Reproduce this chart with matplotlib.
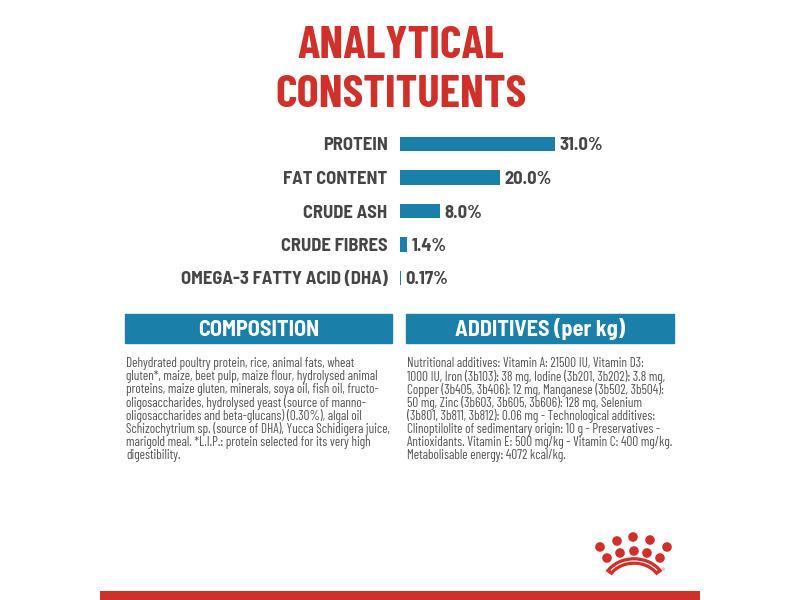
import numpy as np
import matplotlib
matplotlib.use('Agg')
import matplotlib.pyplot as plt
from matplotlib.patches import Rectangle, Circle, Arc

# data
nutrients = ['PROTEIN', 'FAT CONTENT', 'CRUDE ASH', 'CRUDE FIBRES', 'OMEGA-3 FATTY ACID (DHA)']
values = [31.0, 20.0, 8.0, 1.4, 0.17]
value_labels = ['31.0%', '20.0%', '8.0%', '1.4%', '0.17%']

title_lines = ['ANALYTICAL', 'CONSTITUENTS']
composition_title = 'COMPOSITION'
additives_title = 'ADDITIVES (per kg)'
composition_lines = [
    'Dehydrated poultry protein, rice, animal fats, wheat',
    'gluten*, maize, beet pulp, maize flour, hydrolysed animal',
    'proteins, maize gluten, minerals, soya oil, fish oil, fructo-',
    'oligosaccharides, hydrolysed yeast (source of manno-',
    'oligosaccharides and beta-glucans) (0.30%), algal oil',
    'Schizochytrium sp. (source of DHA), Yucca Schidigera juice,',
    'marigold meal. *L.I.P.: protein selected for its very high',
    'digestibility.',
]
additives_lines = [
    'Nutritional additives: Vitamin A: 21500 IU, Vitamin D3:',
    '1000 IU, Iron (3b103): 38 mg, Iodine (3b201, 3b202): 3.8 mg,',
    'Copper (3b405, 3b406): 12 mg, Manganese (3b502, 3b504):',
    '50 mg, Zinc (3b603, 3b605, 3b606): 128 mg, Selenium',
    '(3b801, 3b811, 3b812): 0.06 mg - Technological additives:',
    'Clinoptilolite of sedimentary origin: 10 g - Preservatives -',
    'Antioxidants. Vitamin E: 500 mg/kg - Vitamin C: 400 mg/kg.',
    'Metabolisable energy: 4072 kcal/kg.',
]

# colours
red = '#d0302a'
blue = '#1a80aa'
grey = '#464646'
text_grey = '#555555'

# condensed fonts, DejaVu as fallback
cond = ['Barlow Condensed', 'DejaVu Sans']
semi = ['Barlow Semi Condensed', 'Barlow Condensed', 'DejaVu Sans']
plt.rcParams['font.family'] = cond

fig = plt.figure(figsize=(8, 6), dpi=100)

# background axes in pixel coordinates
bg = fig.add_axes([0, 0, 1, 1])
bg.set_xlim(0, 800)
bg.set_ylim(600, 0)
bg.axis('off')

# title
bg.text(401, 58, title_lines[0], color=red, fontsize=33.5, fontweight='bold',
        ha='center', va='baseline')
bg.text(401, 107, title_lines[1], color=red, fontsize=33.5, fontweight='bold',
        ha='center', va='baseline')

# --------- bar chart ---------
ax = fig.add_axes([0.5, 1 - 294.75 / 600, 0.25, 167.5 / 600])
y = np.arange(len(nutrients))
ax.barh(y, values, height=0.42, color=blue)
ax.set_xlim(0, 40)
ax.set_ylim(len(nutrients) - 0.5, -0.5)
ax.set_yticks(y)
ax.set_yticklabels(nutrients, fontsize=13.3, fontweight='bold', color=grey, family=semi)
for t in ax.get_yticklabels():
    t.set_va('center_baseline')
ax.tick_params(axis='y', length=0, pad=9)
ax.set_xticks([])
for s in ax.spines.values():
    s.set_visible(False)
ax.patch.set_alpha(0)
for yi, v, lab in zip(y, values, value_labels):
    ax.annotate(lab, xy=(v, yi), xytext=(3.5, 0), textcoords='offset points',
                va='center_baseline', ha='left', fontsize=13.3, fontweight='bold',
                color=grey, family=semi)

# --------- composition / additives boxes ---------
bg.add_patch(Rectangle((125, 314), 267, 29, color=blue))
bg.add_patch(Rectangle((406, 314), 268, 29, color=blue))
bg.text(258.5, 336.5, composition_title, color='white', fontsize=16, fontweight='bold',
        ha='center', va='baseline', family=semi)
bg.text(540, 336.5, additives_title, color='white', fontsize=16, fontweight='bold',
        ha='center', va='baseline', family=semi)

for i, line in enumerate(composition_lines):
    bg.text(126, 362 + i * 13.2, line, color=text_grey, fontsize=9.5,
            ha='left', va='center_baseline')
for i, line in enumerate(additives_lines):
    bg.text(407, 362 + i * 13.2, line, color=text_grey, fontsize=9.5,
            ha='left', va='center_baseline')

# --------- crown logo ---------
crown_top = [(600, 547), (617, 541), (633, 537), (650, 540), (667, 547)]
crown_mid = [(607, 558), (620, 553), (634, 551), (647, 553), (660, 558)]
for cx, cy in crown_top + crown_mid:
    bg.add_patch(Circle((cx, cy), 4.8, color=red, lw=0))
bg.add_patch(Arc((634, 585), 58, 48, theta1=205, theta2=335, color=red, lw=5.5))
bg.add_patch(Arc((634, 585), 58, 48, theta1=212, theta2=328, color='white', lw=0.8))
bg.text(663, 572, '®', color=red, fontsize=5, ha='center', va='center')

# bottom red strip
bg.add_patch(Rectangle((100, 591), 600, 9, color=red, lw=0))

plt.savefig('out.png', dpi=100)
print("plot success!")
